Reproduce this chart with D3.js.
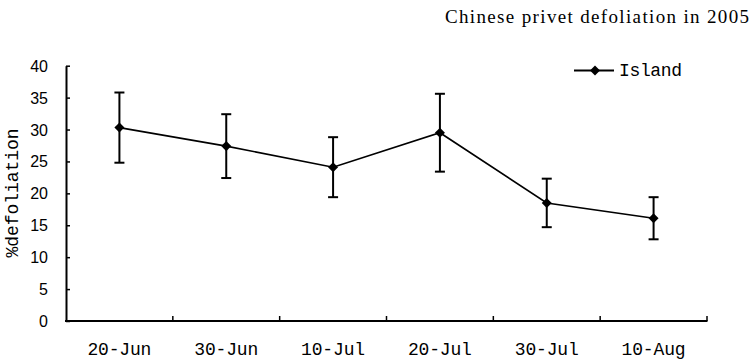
<!DOCTYPE html>
<html>
<head>
<meta charset="utf-8">
<script src="https://cdn.jsdelivr.net/npm/d3@7"></script>
<style>
    body { margin: 0; background: #fff; }
    #chartContainer { width: 750px; height: 364px; }
</style>
</head>
<body>
<div id="chartContainer"></div>
<script>

var dates = ['20-Jun', '30-Jun', '10-Jul', '20-Jul', '30-Jul', '10-Aug']
var defoliation = [30.3, 27.4, 24.1, 29.5, 18.5, 16.1]
var errors = [5.5, 5.0, 4.7, 6.1, 3.8, 3.3]
var yTicks = [0, 5, 10, 15, 20, 25, 30, 35, 40]
var seriesName = 'Island'
var chartTitle = 'Chinese privet defoliation in 2005'
var yTitle = '%defoliation'

var monoFont = '"Liberation Mono", "DejaVu Sans Mono", monospace'

var data = dates.map(function(d, i) {
    return { date: d, val: defoliation[i], err: errors[i] }
})

var svg = d3.select('#chartContainer').append('svg')
    .attr('width', 750)
    .attr('height', 364)

var xScale = d3.scaleBand()
    .domain(dates)
    .range([66, 707])
    .padding(0)

var yScale = d3.scaleLinear()
    .domain([0, 40])
    .range([321, 65.7])

function cx(d) { return xScale(d.date) + xScale.bandwidth() / 2 }

// title
svg.append('text')
    .attr('x', 445)
    .attr('y', 23)
    .attr('textLength', 304)
    .style('font-family', '"Liberation Serif", "Times New Roman", serif')
    .style('font-size', '19px')
    .text(chartTitle)

// y axis, ticks inward
var yAxis = svg.append('g')
    .attr('class', 'yAxis')
    .attr('transform', 'translate(66,0)')
    .call(d3.axisRight(yScale).tickValues(yTicks).tickSizeInner(4).tickSizeOuter(0).tickFormat(''))
yAxis.select('.domain').attr('stroke-width', 2)
yAxis.selectAll('.tick line').attr('stroke-width', 1.5)

svg.append('g')
    .selectAll('text')
    .data(yTicks)
    .enter()
    .append('text')
    .attr('x', 48)
    .attr('y', function(d) { return yScale(d) + 6 })
    .attr('text-anchor', 'end')
    .style('font-family', '"Liberation Sans", Arial, sans-serif')
    .style('font-size', '16px')
    .text(function(d) { return d })

// x axis, ticks inward at band edges
var xAxis = svg.append('g')
    .attr('class', 'xAxis')
    .attr('transform', 'translate(0,321)')
xAxis.append('line')
    .attr('x1', 65).attr('x2', 707.5)
    .attr('stroke', '#000').attr('stroke-width', 2)
xAxis.selectAll('.xtick')
    .data(dates)
    .enter()
    .append('line')
    .attr('class', 'xtick')
    .attr('x1', function(d) { return xScale(d) + xScale.bandwidth() })
    .attr('x2', function(d) { return xScale(d) + xScale.bandwidth() })
    .attr('y1', 0).attr('y2', -5)
    .attr('stroke', '#000').attr('stroke-width', 1.5)
xAxis.selectAll('.xlabel')
    .data(dates)
    .enter()
    .append('text')
    .attr('class', 'xlabel')
    .attr('x', function(d) { return xScale(d) + xScale.bandwidth() / 2 })
    .attr('y', 34)
    .attr('text-anchor', 'middle')
    .attr('textLength', 64)
    .style('font-family', monoFont)
    .style('font-size', '18px')
    .text(function(d) { return d })

// y title
svg.append('text')
    .attr('transform', 'translate(18,193) rotate(-90)')
    .attr('text-anchor', 'middle')
    .attr('textLength', 129)
    .style('font-family', monoFont)
    .style('font-size', '18px')
    .text(yTitle)

// error bars
var errG = svg.append('g').attr('class', 'errors')
errG.selectAll('.bar')
    .data(data)
    .enter()
    .append('line')
    .attr('x1', cx).attr('x2', cx)
    .attr('y1', function(d) { return yScale(d.val + d.err) })
    .attr('y2', function(d) { return yScale(d.val - d.err) })
    .attr('stroke', '#000').attr('stroke-width', 2)
errG.selectAll('.capTop')
    .data(data)
    .enter()
    .append('line')
    .attr('x1', function(d) { return cx(d) - 5 }).attr('x2', function(d) { return cx(d) + 5 })
    .attr('y1', function(d) { return yScale(d.val + d.err) })
    .attr('y2', function(d) { return yScale(d.val + d.err) })
    .attr('stroke', '#000').attr('stroke-width', 2)
errG.selectAll('.capBot')
    .data(data)
    .enter()
    .append('line')
    .attr('x1', function(d) { return cx(d) - 5 }).attr('x2', function(d) { return cx(d) + 5 })
    .attr('y1', function(d) { return yScale(d.val - d.err) })
    .attr('y2', function(d) { return yScale(d.val - d.err) })
    .attr('stroke', '#000').attr('stroke-width', 2)

// line
var line = d3.line()
    .x(cx)
    .y(function(d) { return yScale(d.val) })

svg.append('path')
    .datum(data)
    .attr('d', line)
    .attr('fill', 'none')
    .attr('stroke', '#000')
    .attr('stroke-width', 1.6)

var diamond = d3.symbol().type(d3.symbolDiamond2).size(64)

svg.append('g')
    .selectAll('path')
    .data(data)
    .enter()
    .append('path')
    .attr('d', diamond)
    .attr('transform', function(d) { return 'translate(' + cx(d) + ',' + yScale(d.val) + ')' })
    .attr('fill', '#000')

// legend
var legend = svg.append('g').attr('class', 'legend')
legend.append('line')
    .attr('x1', 574).attr('x2', 614)
    .attr('y1', 70.5).attr('y2', 70.5)
    .attr('stroke', '#000').attr('stroke-width', 1.8)
legend.append('path')
    .attr('d', diamond)
    .attr('transform', 'translate(595,70.5)')
    .attr('fill', '#000')
legend.append('text')
    .attr('x', 619)
    .attr('y', 76)
    .attr('textLength', 63)
    .style('font-family', monoFont)
    .style('font-size', '18px')
    .text(seriesName)

</script>
</body>
</html>
